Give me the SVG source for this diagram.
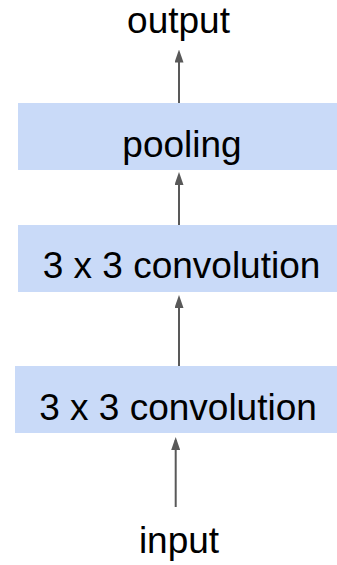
<svg xmlns="http://www.w3.org/2000/svg" width="337" height="565" viewBox="0 0 337 565">
  <style>
    .box { fill: #c9daf8; }
    .lbl { font-family: "Liberation Sans", Arial, sans-serif; font-size: 37px; fill: #000; text-anchor: middle; }
    .edge path { stroke: #595959; stroke-width: 2; fill: none; marker-end: url(#head); }
  </style>
  <defs>
    <!-- arrowhead: tip sits 3px past the end of the line -->
    <marker id="head" markerUnits="userSpaceOnUse" markerWidth="13" markerHeight="9" viewBox="0 0 13 9" refX="10" refY="4.5" orient="auto">
      <path d="M0,0 L13,4.5 L0,9 Z" fill="#595959"/>
    </marker>
  </defs>
  <rect width="337" height="565" fill="#ffffff"/>

  <g id="connectors" class="edge">
    <path d="M175.7,507 L175.7,440"/>
    <path d="M179,366 L179,298"/>
    <path d="M179,225 L179,175"/>
    <path d="M179,104 L179,52.5"/>
  </g>

  <g id="output">
    <text class="lbl" x="178.5" y="33">output</text>
  </g>
  <g id="pooling">
    <rect class="box" x="18" y="103" width="319" height="67"/>
    <text class="lbl" x="182" y="157">pooling</text>
  </g>
  <g id="conv2">
    <rect class="box" x="18" y="225" width="319" height="67"/>
    <text class="lbl" x="181.5" y="278">3 x 3 convolution</text>
  </g>
  <g id="conv1">
    <rect class="box" x="15" y="366" width="322" height="67"/>
    <text class="lbl" x="178" y="420">3 x 3 convolution</text>
  </g>
  <g id="input">
    <text class="lbl" x="179" y="553">input</text>
  </g>
</svg>
